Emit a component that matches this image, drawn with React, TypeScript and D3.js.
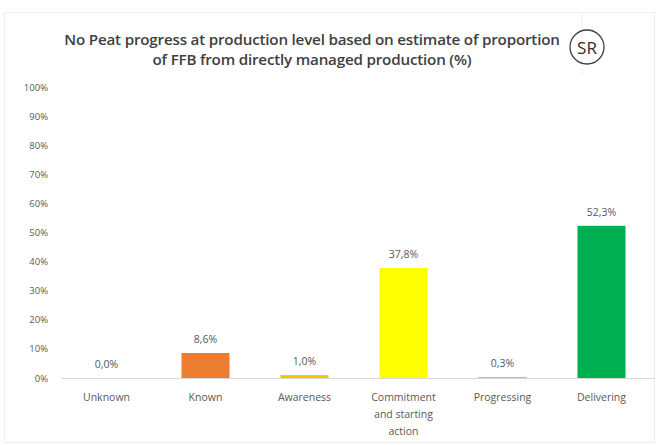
import * as d3 from 'd3'

const categories = ['Unknown', 'Known', 'Awareness', 'Commitment and starting action', 'Progressing', 'Delivering']
const categoryLines = [['Unknown'], ['Known'], ['Awareness'], ['Commitment', 'and starting', 'action'], ['Progressing'], ['Delivering']]
const values = [0.0, 8.6, 1.0, 37.8, 0.3, 52.3]
const barColors = ['#a6a6a6', '#ed7d31', '#ffc000', '#ffff00', '#92d050', '#00b050']
const yTicks = [0, 10, 20, 30, 40, 50, 60, 70, 80, 90, 100]
const titleLines = [
  'No Peat progress at production level based on estimate of proportion',
  'of FFB from directly managed production (%)',
]

export default function App() {
  const width = 660
  const height = 445
  const left = 57
  const right = 651
  const top = 87
  const bottom = 378

  const x = d3.scaleBand<string>().domain(categories).range([left, right]).paddingInner(0.515).paddingOuter(0.2575)
  const y = d3.scaleLinear().domain([0, 100]).range([bottom, top])
  const fmt = (v: number) => v.toFixed(1).replace('.', ',') + '%'
  const font = 'Open Sans, Noto Sans, sans-serif'

  return (
    <svg width={width} height={height} style={{ position: 'absolute', left: 0, top: 0 }} fontFamily={font}>
      <rect x={0} y={0} width={width} height={height} fill="#ffffff" />
      <rect x={4.5} y={12.5} width={650} height={430} fill="none" stroke="#eeeeee" />
      <line x1={582} x2={582} y1={13} y2={75} stroke="#f0f0f0" />

      {titleLines.map((t, i) => (
        <text key={i} x={312} y={45 + i * 20} textAnchor="middle" fontSize={15.2} fontWeight={600} fill="#404040" letterSpacing={-0.2}>
          {t}
        </text>
      ))}
      <circle cx={587} cy={47} r={17} fill="none" stroke="#404040" strokeWidth={1.3} />
      <text x={587} y={53.5} textAnchor="middle" fontSize={17} fill="#303030">SR</text>

      {yTicks.map((t) => (
        <text key={t} x={48} y={y(t) + 3.5} textAnchor="end" fontSize={9.5} fill="#595959">
          {t}%
        </text>
      ))}

      <line x1={62} x2={655} y1={bottom + 0.5} y2={bottom + 0.5} stroke="#d9d9d9" />

      {categories.map((c, i) => {
        const bx = x(c) as number
        const bh = bottom - y(values[i])
        return (
          <g key={c}>
            {values[i] > 0 && (
              <rect x={bx} y={y(values[i])} width={x.bandwidth()} height={bh} fill={barColors[i]} />
            )}
            <text x={bx + x.bandwidth() / 2} y={y(values[i]) - 10} textAnchor="middle" fontSize={10.5} fill="#595959">
              {fmt(values[i])}
            </text>
            {categoryLines[i].map((l, j) => (
              <text key={j} x={bx + x.bandwidth() / 2} y={401 + j * 17} textAnchor="middle" fontSize={10.5} fill="#595959">
                {l}
              </text>
            ))}
          </g>
        )
      })}
    </svg>
  )
}
